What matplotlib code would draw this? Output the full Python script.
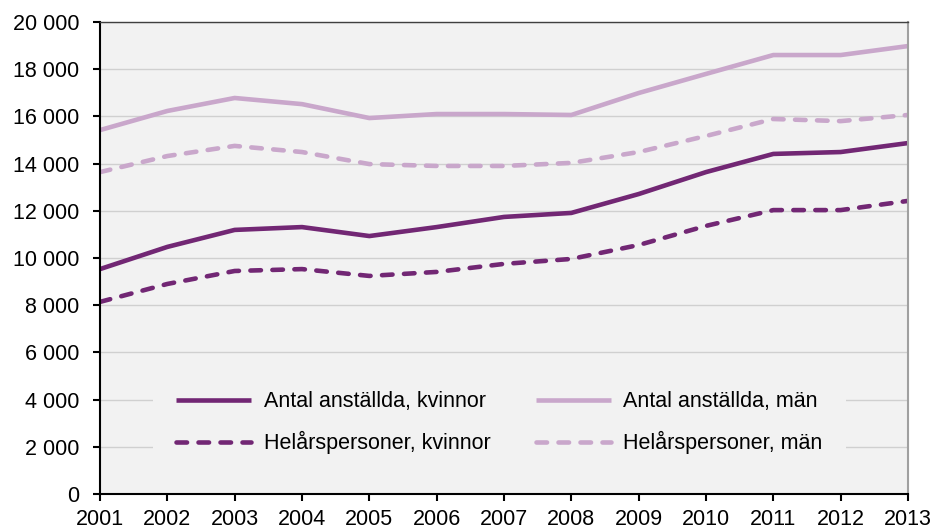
import matplotlib
matplotlib.use("Agg")
import matplotlib.pyplot as plt
from matplotlib.ticker import FuncFormatter

plt.rcParams['font.family'] = ['Liberation Sans', 'DejaVu Sans']

# data
years = [2001, 2002, 2003, 2004, 2005, 2006, 2007, 2008, 2009, 2010, 2011, 2012, 2013]
antal_kvinnor = [9530, 10470, 11190, 11310, 10930, 11310, 11740, 11910, 12710, 13640, 14410, 14490, 14870]
helar_kvinnor = [8140, 8900, 9450, 9530, 9240, 9410, 9750, 9960, 10550, 11360, 12030, 12030, 12420]
antal_man = [15420, 16230, 16780, 16520, 15930, 16100, 16100, 16060, 16990, 17800, 18600, 18600, 18980]
helar_man = [13640, 14320, 14750, 14490, 13980, 13900, 13900, 14030, 14490, 15170, 15890, 15800, 16060]

labels = ["Antal anställda, kvinnor", "Antal anställda, män",
          "Helårspersoner, kvinnor", "Helårspersoner, män"]

dark = "#722774"
light = "#c9a7cb"
bg = "#f2f2f2"
fs = 15.5

fig = plt.figure(figsize=(9.38, 5.30), dpi=100)
ax = fig.add_axes([100 / 938, 36 / 530, 808 / 938, 472 / 530])
ax.set_facecolor(bg)

dash = dict(dashes=(2.3, 2.5), dash_capstyle="round")
l1, = ax.plot(years, antal_kvinnor, color=dark, lw=3.3, solid_capstyle="butt")
l2, = ax.plot(years, antal_man, color=light, lw=3.3, solid_capstyle="butt")
l3, = ax.plot(years, helar_kvinnor, color=dark, lw=3.3, **dash)
l4, = ax.plot(years, helar_man, color=light, lw=3.3, **dash)

ax.set_xlim(2001, 2013)
ax.set_ylim(0, 20000)
ax.set_xticks(years)
ax.set_yticks(range(0, 20001, 2000))
ax.yaxis.set_major_formatter(FuncFormatter(lambda v, p: f"{int(v):,}".replace(",", " ")))

ax.grid(axis="y", color="#d0d0d0", lw=1)
ax.set_axisbelow(True)

for s in ["left", "bottom"]:
    ax.spines[s].set_color("black")
    ax.spines[s].set_linewidth(1.5)
ax.spines["top"].set_color("#404040")
ax.spines["top"].set_linewidth(1)
ax.spines["right"].set_color("#a0a0a0")
ax.spines["right"].set_linewidth(1.5)

ax.tick_params(axis="both", direction="out", length=5, width=1.5, labelsize=fs, colors="black")
ax.tick_params(axis="x", pad=6)
ax.tick_params(axis="y", pad=10)

# column-first fill: kvinnor in the left column, män in the right
handles = [l1, l3, l2, l4]
order = [labels[0], labels[2], labels[1], labels[3]]
leg = ax.legend(handles, order, ncol=2, loc="lower left",
                bbox_to_anchor=(0.0656, 0.036), borderaxespad=0,
                fontsize=fs, handlelength=3.5, handletextpad=0.58,
                columnspacing=2.1, labelspacing=0.87, borderpad=1.06,
                frameon=True, fancybox=False, framealpha=1)
leg.get_frame().set_facecolor(bg)
leg.get_frame().set_edgecolor("none")

fig.savefig("out.png", dpi=100)
